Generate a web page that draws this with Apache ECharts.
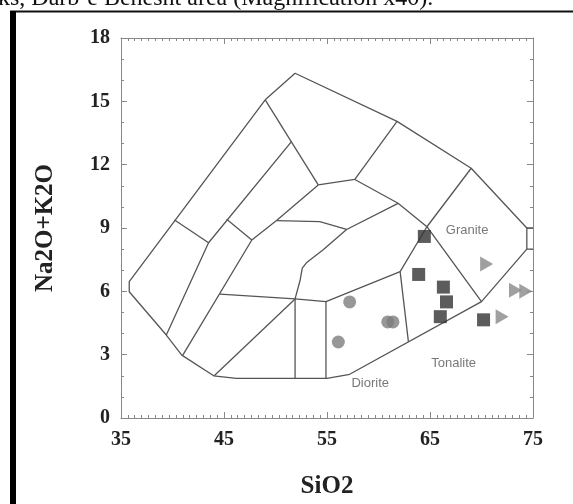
<!DOCTYPE html>
<html><head><meta charset="utf-8">
<script src="https://cdn.jsdelivr.net/npm/echarts@6/dist/echarts.min.js"></script>
<style>html,body{margin:0;padding:0;background:#fff;overflow:hidden}#c{width:573px;height:504px}</style>
</head><body><div id="c"></div>
<script>
// ---- data ----
const xTicks = [35, 45, 55, 65, 75];
const yTicks = [0, 3, 6, 9, 12, 15, 18];
const circles = [[57.2, 5.5], [60.9, 4.55], [61.4, 4.55], [56.1, 3.6]];
const squares = [[64.45, 8.6], [63.9, 6.8], [66.3, 6.2], [66.6, 5.5], [66.0, 4.8], [70.2, 4.65]];
const triangles = [[70.5, 7.3], [73.3, 6.05], [74.3, 6.0], [72.0, 4.8]];
const fieldNames = ['Granite', 'Tonalite', 'Diorite'];
const fieldPos = [[68.6, 8.9], [67.3, 2.6], [59.2, 1.65]];
const outerBoundary = [[49.0, 15.07], [51.9, 16.33], [61.8, 14.05], [69.0, 11.83], [74.4, 9.0], [74.4, 8.0], [70.0, 5.51], [57.2, 2.07], [55.0, 1.88], [46.2, 1.88], [44.0, 2.0], [40.9, 2.98], [39.4, 3.93], [35.8, 5.98], [35.8, 6.46], [49.0, 15.07]];
const innerBoundaries = [
  [[74.4, 9.0], [75, 9.0]],
  [[74.4, 8.0], [75, 8.0]],
  [[49.0, 15.07], [54.15, 11.04]],
  [[54.15, 11.04], [57.7, 11.3], [61.8, 14.05]],
  [[57.7, 11.3], [61.9, 10.17], [64.7, 9.06]],
  [[69.0, 11.83], [64.7, 9.06], [70.0, 5.51]],
  [[64.7, 9.06], [62.1, 6.93], [62.9, 3.63]],
  [[44.6, 5.87], [51.9, 5.64], [54.9, 5.51], [62.1, 6.93]],
  [[54.15, 11.04], [50.1, 9.35], [47.7, 8.43], [41.0, 2.98]],
  [[45.26, 9.42], [47.7, 8.43]],
  [[51.57, 13.1], [43.5, 8.3], [39.4, 3.93]],
  [[40.2, 9.38], [43.5, 8.3]],
  [[50.1, 9.35], [54.3, 9.3], [56.9, 8.93], [61.9, 10.17]],
  [[56.9, 8.93], [54.6, 7.96], [53.0, 7.35], [52.6, 7.1], [52.4, 6.55], [51.9, 5.64], [51.9, 1.88]],
  [[54.9, 5.51], [54.9, 1.88]],
  [[44.05, 2.0], [51.9, 5.64]]
];
const caption = 'ks, Darb-e Behesht area (Magnification x40).';

// ---- chart ----
const chart = echarts.init(document.getElementById('c'), null, {renderer: 'canvas'});
const axisGray = '#888';
const serif = 'Liberation Serif';
function xAx(pos, labels) {
  return {
    type: 'value', position: pos, min: xTicks[0], max: xTicks[xTicks.length - 1], interval: xTicks[1] - xTicks[0],
    axisLine: {show: true, onZero: false, lineStyle: {color: axisGray, width: 1}},
    axisTick: {show: true, inside: true, length: 6, lineStyle: {color: axisGray}},
    minorTick: {show: true, splitNumber: 15, length: 3, lineStyle: {color: axisGray}},
    splitLine: {show: false}, minorSplitLine: {show: false},
    axisLabel: {show: labels, fontFamily: serif, fontWeight: 'bold', fontSize: 20, color: '#222', margin: 12},
    name: labels ? 'SiO2' : '', nameLocation: 'middle', nameGap: 56,
    nameTextStyle: {fontFamily: serif, fontWeight: 'bold', fontSize: 25, color: '#222'}
  };
}
function yAx(pos, labels) {
  return {
    type: 'value', position: pos, min: yTicks[0], max: yTicks[yTicks.length - 1], interval: yTicks[1] - yTicks[0],
    axisLine: {show: true, onZero: false, lineStyle: {color: axisGray, width: 1}},
    axisTick: {show: true, inside: true, length: 6, lineStyle: {color: axisGray}},
    minorTick: {show: true, splitNumber: 3, length: 3, lineStyle: {color: axisGray}},
    splitLine: {show: false}, minorSplitLine: {show: false},
    axisLabel: {show: labels, fontFamily: serif, fontWeight: 'bold', fontSize: 20, color: '#222', margin: 11},
    name: labels ? 'Na2O+K2O' : '', nameLocation: 'middle', nameGap: 63,
    nameTextStyle: {fontFamily: serif, fontWeight: 'bold', fontSize: 25, color: '#222'}
  };
}
const lineStyle = {color: '#555', width: 1.3};
const series = [];
[outerBoundary].concat(innerBoundaries).forEach(function (seg) {
  series.push({type: 'line', data: seg, symbol: 'none', silent: true, lineStyle: lineStyle, animation: false, z: 2});
});
series.push({type: 'scatter', data: circles, symbol: 'circle', symbolSize: 13, itemStyle: {color: '#7d7d7d'}, z: 3, animation: false});
series.push({type: 'scatter', data: squares, symbol: 'rect', symbolSize: 13, itemStyle: {color: '#333'}, z: 3, animation: false});
series.push({type: 'scatter', data: triangles, symbol: 'triangle', symbolRotate: -90, symbolSize: [15, 13], itemStyle: {color: '#888'}, z: 3, animation: false});
series.push({
  type: 'scatter', symbolSize: 0, animation: false, silent: true,
  data: fieldNames.map(function (n, i) { return {name: n, value: fieldPos[i]}; }),
  label: {show: true, position: 'inside', formatter: '{b}', fontFamily: 'Liberation Sans', fontSize: 13, color: '#555'}
});

chart.setOption({
  backgroundColor: '#fff',
  animation: false,
  grid: {left: 121, right: 40, top: 38, bottom: 86},
  xAxis: [xAx('bottom', true), xAx('top', false)],
  yAxis: [yAx('left', true), yAx('right', false)],
  series: series,
  graphic: [
    {type: 'rect', shape: {x: 10, y: 10.5, width: 563, height: 2}, style: {fill: '#111'}, silent: true},
    {type: 'rect', shape: {x: 10, y: 11, width: 6, height: 493}, style: {fill: '#000'}, silent: true},
    {type: 'text', x: -2, y: 11, style: {text: caption, font: '24px "Liberation Serif"', fill: '#111', verticalAlign: 'bottom', align: 'left'}, silent: true}
  ]
});
</script>
</body></html>
